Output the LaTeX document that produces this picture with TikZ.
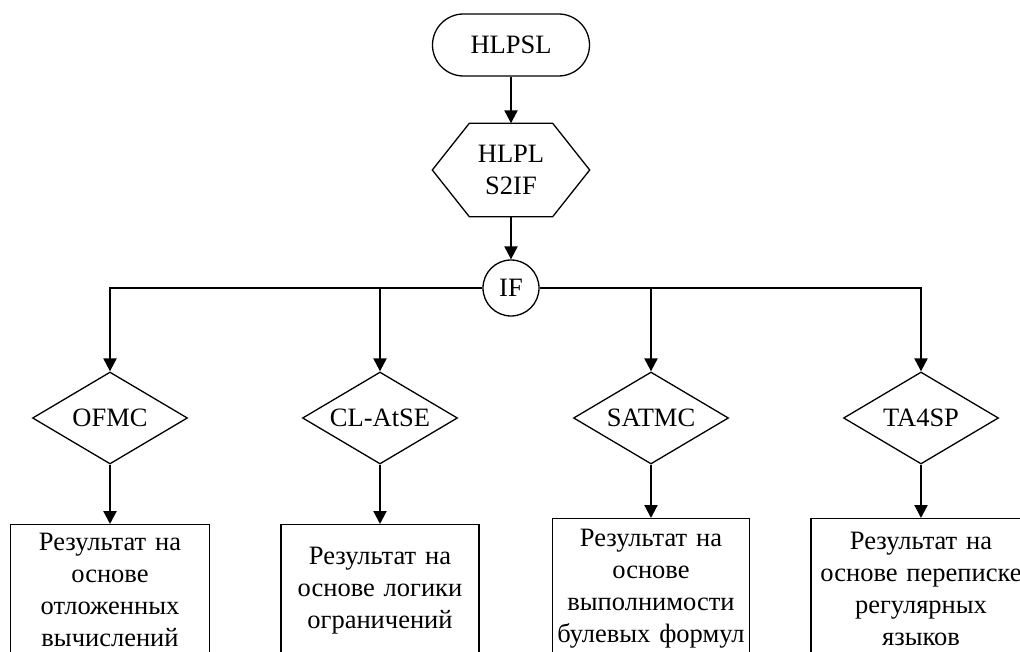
\documentclass[tikz,border=0pt]{standalone}
\usepackage{fontspec}
\setmainfont{Liberation Serif}
\usetikzlibrary{arrows.meta,shapes.geometric}
\begin{document}
\begin{tikzpicture}[x=1pt,y=-1pt,
  shapeline/.style={draw=black,line width=1.3pt},
  conn/.style={line width=2.2pt,-{Triangle[length=13pt,width=13pt]}},
  lbl/.style={font=\fontsize{26.5}{32}\selectfont,align=center,inner sep=0pt},
  dia/.style={shapeline,lbl,diamond,aspect=1.7,minimum width=155pt,minimum height=92pt},
  resbox/.style={shapeline,lbl,anchor=north,text width=#1,minimum width=#1}]
\useasboundingbox (0,0) rectangle (1020,652);
\clip (0,0) rectangle (1020,652);
\fill[white] (0,0) rectangle (1020,652);

\node[shapeline,lbl,rounded corners=31pt,minimum width=157pt,minimum height=62pt] (start) at (511,45) {HLPSL};
\node[lbl,minimum width=157pt,minimum height=93pt] (conv) at (511,170) {HLPL\\S2IF};
\draw[shapeline] (conv.west) -- ([xshift=37pt]conv.north west) -- ([xshift=-37pt]conv.north east)
  -- (conv.east) -- ([xshift=-37pt]conv.south east) -- ([xshift=37pt]conv.south west) -- cycle;
\node[shapeline,lbl,circle,minimum size=56pt] (if) at (511,288) {IF};

\node[dia] (d1) at (110,418) {OFMC};
\node[dia] (d2) at (380,418) {CL-AtSE};
\node[dia] (d3) at (651,418) {SATMC};
\node[dia] (d4) at (921,418) {TA4SP};

\node[resbox=199pt,minimum height=130pt] (r1) at (110,524) {Результат на\\основе\\отложенных\\вычислений};
\node[resbox=198pt,minimum height=132pt] (r2) at (380,524) {Результат на\\основе логики\\ограничений};
\node[resbox=197pt,minimum height=141pt] (r3) at (651,518) {Результат на\\основе\\выполнимости\\булевых формул};
\node[resbox=220pt,minimum height=141pt] (r4) at (921,518) {Результат на\\основе переписке\\регулярных\\языков};

\draw[conn] (start) -- (conv);
\draw[conn] (conv.south) -- (if.north);
\draw[conn] (if.west) -| (d1.north);
\draw[conn] (if.west) -| (d2.north);
\draw[conn] (if.east) -| (d3.north);
\draw[conn] (if.east) -| (d4.north);
\draw[conn] (d1.south) -- (r1.north);
\draw[conn] (d2.south) -- (r2.north);
\draw[conn] (d3.south) -- (r3.north);
\draw[conn] (d4.south) -- (r4.north);
\end{tikzpicture}
\end{document}
